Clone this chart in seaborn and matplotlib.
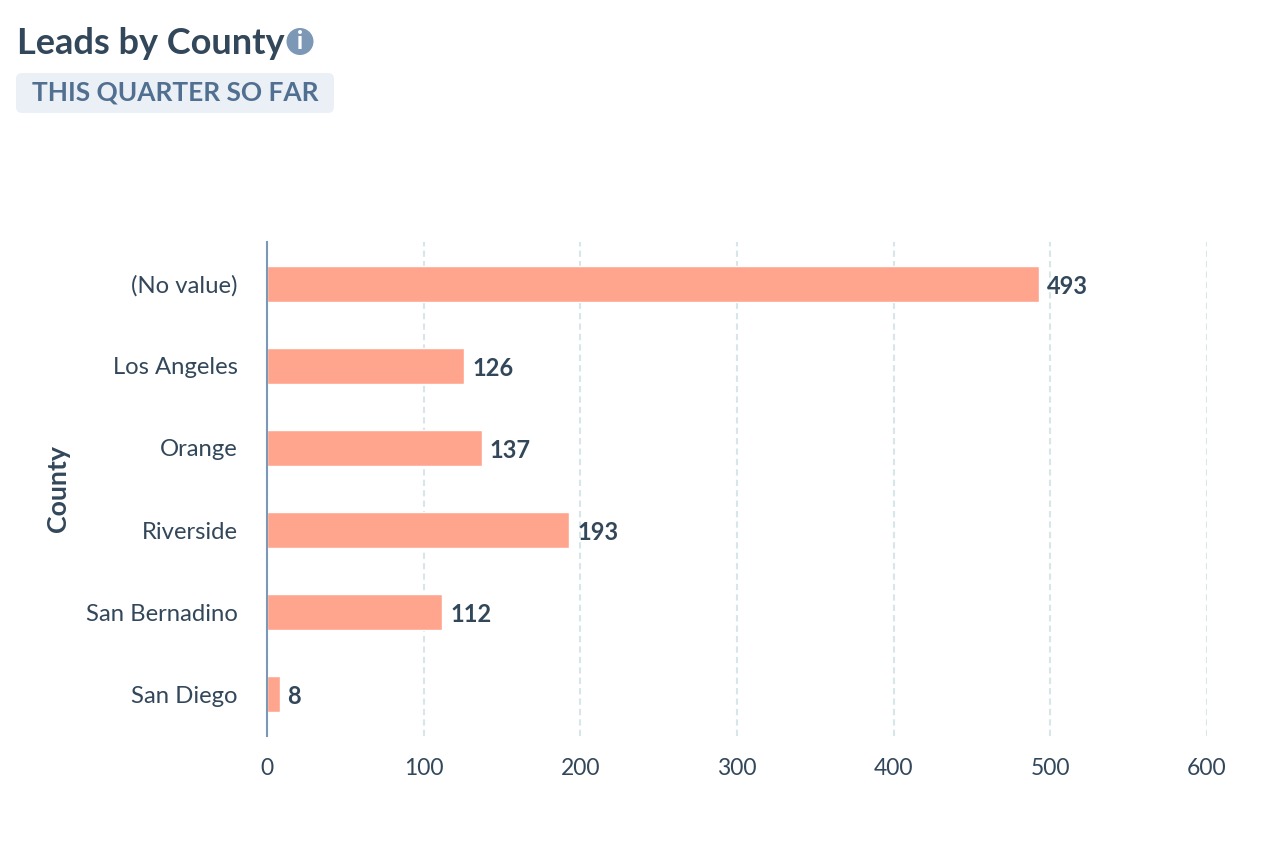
import matplotlib
matplotlib.use('Agg')
import matplotlib.pyplot as plt
from matplotlib.patches import Circle, FancyBboxPatch
import pandas as pd
import seaborn as sns

counties = ['(No value)', 'Los Angeles', 'Orange', 'Riverside', 'San Bernadino', 'San Diego']
leads = [493, 126, 137, 193, 112, 8]
x_ticks = [0, 100, 200, 300, 400, 500, 600]

dark = '#33475b'
slate = '#516f90'
axis_blue = '#7c98b6'
salmon = '#ffa58e'
grid_col = '#d6e6e9'

sns.set_theme(style='white')
plt.rcParams['font.family'] = ['Lato', 'DejaVu Sans']

df = pd.DataFrame({'county': counties, 'leads': leads})

fig = plt.figure(figsize=(12.8, 8.44), dpi=100)
ax = fig.add_axes([267 / 1280, 1 - 736 / 844, 940 / 1280, 494 / 844])

sns.barplot(data=df, y='county', x='leads', color=salmon, saturation=1, width=0.44, ax=ax, zorder=3)

ax.set_xlim(0, 600)
ax.set_ylim(5.51, -0.51)
ax.set_xticks(x_ticks)
ax.xaxis.grid(True, color=grid_col, linestyle=(0, (3, 2)), linewidth=1.5)
ax.yaxis.grid(False)
ax.set_axisbelow(True)

for side in ['top', 'right', 'bottom']:
    ax.spines[side].set_visible(False)
ax.spines['left'].set_color(axis_blue)
ax.spines['left'].set_linewidth(1.5)
ax.spines['left'].set_zorder(5)

ax.tick_params(axis='x', length=0, pad=16, labelsize=16.5, labelcolor=dark)
ax.tick_params(axis='y', length=0, pad=21, labelsize=17.2, labelcolor=dark)

ax.set_xlabel('')
ax.set_ylabel('')

labels = ax.bar_label(ax.containers[0], padding=5.5, color=dark, fontsize=17, fontweight='bold')
for lab in labels:
    lab.xyann = (5.5, -2)

# y axis title, title block and icon sit outside the plot, so use pixel coords
over = fig.add_axes([0, 0, 1, 1], zorder=10)
over.set_xlim(0, 1280)
over.set_ylim(844, 0)
over.axis('off')

over.text(58, 488, 'County', rotation=90, ha='center', va='center', color=dark, fontsize=19.3, fontweight='bold')
over.text(17, 43, 'Leads by County', ha='left', va='center', color=dark, fontsize=26, fontweight='bold')

over.add_patch(Circle((300, 41.5), 13.5, color=axis_blue, lw=0))
over.text(300, 41.5, 'i', ha='center', va='center', color='white', fontsize=17, fontweight='black')

over.add_patch(FancyBboxPatch((16, 73), 318, 40, boxstyle='round,pad=0,rounding_size=6',
                              facecolor='#eaf0f6', edgecolor='none'))
over.text(32, 92, 'THIS QUARTER SO FAR', ha='left', va='center', color=slate, fontsize=18.9, fontweight='bold')

fig.savefig('out.png', dpi=100, facecolor='white')
